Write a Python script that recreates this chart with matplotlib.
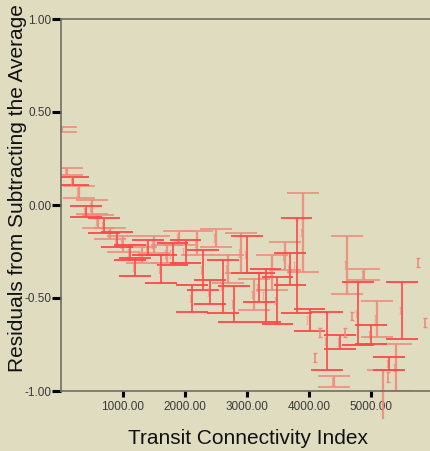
import matplotlib
matplotlib.use("Agg")
import matplotlib.pyplot as plt
import numpy as np

# error bar ranges: transit connectivity index vs residual interval
tci = [10, 100, 190, 290, 400, 500, 600, 690, 790, 900,
       1000, 1110, 1190, 1300, 1400, 1500, 1610, 1710, 1800, 1900,
       2010, 2110, 2190, 2290, 2400, 2500, 2610, 2690, 2790, 2900,
       3000, 3110, 3190, 3300, 3400, 3490, 3610, 3690, 3800, 3900,
       4010, 4290, 4400, 4500, 4610, 4790, 4890, 5000, 5100, 5190,
       5290, 5400, 5500]
resid_lo = [0.39, 0.16, 0.11, 0.04, -0.065, -0.048, -0.124, -0.15, -0.183, -0.226,
            -0.253, -0.296, -0.38, -0.312, -0.269, -0.258, -0.419, -0.312, -0.323, -0.215,
            -0.31, -0.575, -0.27, -0.457, -0.532, -0.226, -0.58, -0.42, -0.63, -0.366,
            -0.366, -0.565, -0.52, -0.63, -0.457, -0.64, -0.35, -0.43, -0.58, -0.36,
            -0.677, -0.887, -0.98, -0.774, -0.478, -0.753, -0.403, -0.747, -0.71, -1.15,
            -0.887, -1.0, -0.72]
resid_hi = [0.42, 0.20, 0.15, 0.10, -0.005, 0.027, -0.054, -0.07, -0.124, -0.145,
            -0.167, -0.215, -0.285, -0.226, -0.188, -0.167, -0.269, -0.215, -0.204, -0.14,
            -0.188, -0.43, -0.14, -0.24, -0.403, -0.13, -0.296, -0.27, -0.435, -0.15,
            -0.167, -0.398, -0.366, -0.344, -0.27, -0.385, -0.2, -0.26, -0.07, 0.065,
            -0.56, -0.575, -0.92, -0.70, -0.167, -0.414, -0.344, -0.645, -0.516, -0.887,
            -0.817, -0.747, -0.414]
tone = [1, 1, 0, 1, 0, 1, 1, 0, 1, 0,
        1, 0, 0, 1, 0, 1, 0, 1, 0, 1,
        0, 0, 1, 0, 0, 1, 0, 1, 0, 1,
        0, 1, 0, 0, 1, 0, 1, 0, 0, 1,
        0, 0, 1, 0, 1, 0, 1, 0, 1, 1,
        0, 1, 0]

# single points with a very narrow interval
dot_x = [5760, 5870, 4690, 4180, 4100, 5270, 4580]
dot_lo = [-0.333, -0.656, -0.618, -0.71, -0.845, -0.95, -0.71]
dot_hi = [-0.285, -0.608, -0.575, -0.66, -0.795, -0.90, -0.66]

BG = '#E0DCBF'
RED = '#FF4848'
PINK = '#F08A7C'
half_w = 255

fig = plt.figure(figsize=(4.31, 4.51), dpi=100, facecolor=BG)
ax = fig.add_axes([61/431, 60/451, 372/431, 372/451])
ax.set_facecolor(BG)

x = np.array(tci, float)
lo = np.array(resid_lo)
hi = np.array(resid_hi)
tn = np.array(tone)
for t, col, lw, a in [(1, PINK, 1.6, 0.9), (0, RED, 1.2, 1.0)]:
    m = tn == t
    ax.vlines(x[m], lo[m], hi[m], color=col, lw=lw, alpha=a, clip_on=False)
    ax.hlines(lo[m], x[m] - half_w, x[m] + half_w, color=col, lw=1.3, alpha=a)
    ax.hlines(hi[m], x[m] - half_w, x[m] + half_w, color=col, lw=1.3, alpha=a)
    # small mean markers beside each bar
    mid = (lo[m] + hi[m]) / 2
    ax.errorbar(x[m] - 35, mid, yerr=0.02, fmt='none', ecolor=PINK,
                elinewidth=0.8, capsize=1.0, capthick=0.6, alpha=0.6)

ax.errorbar(dot_x, (np.array(dot_lo) + np.array(dot_hi)) / 2,
            yerr=(np.array(dot_hi) - np.array(dot_lo)) / 2, fmt='none',
            ecolor=PINK, elinewidth=1.2, capsize=1.4, capthick=1.0)

ax.set_xlim(0, 6000)
ax.set_ylim(-1.0, 1.0)
ax.set_xticks([1000, 2000, 3000, 4000, 5000])
ax.set_xticklabels(['1000.00', '2000.00', '3000.00', '4000.00', '5000.00'])
ax.set_yticks([-1.0, -0.5, 0.0, 0.5, 1.0])
ax.set_yticklabels(['-1.00', '-0.50', '0.00', '0.50', '1.00'])

for s in ['top', 'left', 'bottom']:
    ax.spines[s].set_color('#6E6E64')
    ax.spines[s].set_linewidth(1.2)
ax.spines['right'].set_visible(False)

ax.tick_params(axis='y', length=6.5, width=2.2, color='black', pad=0.5,
               labelsize=8.5, labelcolor='#3A3A3A')
ax.tick_params(axis='x', length=4.3, width=2.2, color='black', pad=3,
               labelsize=8.5, labelcolor='#3A3A3A')
for lab in ax.get_xticklabels() + ax.get_yticklabels():
    lab.set_family('Liberation Sans')

fig.text(248/431, 1 - 438/451, 'Transit Connectivity Index', ha='center',
         va='center', fontsize=15, family='Liberation Sans', color='#111111')
fig.text(18/431, 1 - 188/451, 'Residuals from Subtracting the Average',
         ha='center', va='center', rotation=90, fontsize=15,
         family='Liberation Sans', color='#111111')

fig.savefig('out.png', dpi=100, facecolor=BG)
